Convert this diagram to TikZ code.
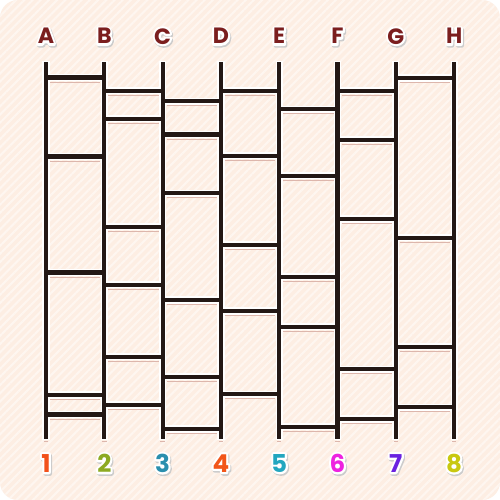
\documentclass[tikz,border=0pt]{standalone}
\usepackage{fontspec}
\setmainfont{Poppins}
\usetikzlibrary{patterns.meta}

\definecolor{bgpeach}{HTML}{FDEEE3}
\definecolor{stripe}{HTML}{FEF6F0}
\definecolor{railc}{HTML}{231815}
\definecolor{rungshade}{HTML}{DDB6AC}
\definecolor{lblred}{HTML}{7B1E1E}
\definecolor{cone}{HTML}{F2511B}
\definecolor{ctwo}{HTML}{8DAA22}
\definecolor{cthree}{HTML}{2A8FAE}
\definecolor{cfour}{HTML}{F2561A}
\definecolor{cfive}{HTML}{22A6BF}
\definecolor{csix}{HTML}{EE22E0}
\definecolor{cseven}{HTML}{6A22E0}
\definecolor{ceight}{HTML}{C9C810}

% coloured label with white rim and soft drop shadow (stroked glyphs underneath)
\newcommand\rimtext[2]{%
  \makebox[0pt][l]{\hspace{0.6pt}\raisebox{-0.9pt}{\color{black!20}%
    \special{pdf:literal direct 1 j 2.4 w 2 Tr}#2\special{pdf:literal direct 0 Tr}}}%
  \makebox[0pt][l]{\color{white}%
    \special{pdf:literal direct 1 j 2.4 w 2 Tr}#2\special{pdf:literal direct 0 Tr}}%
  \textcolor{#1}{#2}}

\begin{document}
\begin{tikzpicture}[
  x=0.2mm, y=-0.2mm,
  halo/.style={white, line width=4.1pt},
  rail/.style={railc, line width=2.3pt},
  shadeline/.style={rungshade, line width=0.6pt},
  toplbl/.style={font=\bfseries\fontsize{12.6}{12.6}\selectfont, inner sep=0pt},
  numlbl/.style={font=\bfseries\fontsize{14}{14}\selectfont, inner sep=0pt}]

% background card
\useasboundingbox (0,0) rectangle (500,500);
\fill[white] (0,0) rectangle (500,500);
\fill[bgpeach, rounded corners=3.6mm] (0,0) rectangle (500,500);
\fill[pattern={Lines[angle=45, distance=3.3pt, line width=1.2pt]}, pattern color=stripe,
      rounded corners=3.6mm] (0,0) rectangle (500,500);

% rails: name / x / number / colour
\foreach \n/\x/\k/\c in {A/46/1/cone, B/104.3/2/ctwo, C/162.6/3/cthree, D/220.9/4/cfour,
                         E/279.2/5/cfive, F/337.5/6/csix, G/395.8/7/cseven, H/454.1/8/ceight}{
  \coordinate (t\n) at (\x,62);
  \coordinate (b\n) at (\x,439);
  \node[toplbl] (l\n) at (\x,37) {\rimtext{lblred}{\n}};
  \node[numlbl] (n\k) at (\x,464) {\rimtext{\c}{\k}};
}

\def\rungs{A/B/{77.5,156.5,272.5,395,414.5},
           B/C/{90.7,118.7,226.7,284.7,356.7,405},
           C/D/{101.3,134.5,193.3,300,376.7,429},
           D/E/{90.7,155.7,245,311,394.3},
           E/F/{109.3,175.7,276.7,326.7,426.7},
           F/G/{90.7,139.7,219,369.3,419},
           G/H/{78,237.7,346.7,407.3}}

% white rims first
\foreach \n in {A,...,H}
  \draw[halo] ([yshift=0.4pt]t\n) -- ([yshift=-0.4pt]b\n);
\foreach \l/\r/\ys in \rungs
  \foreach \y in \ys
    \draw[halo] (t\l |- 0,\y) -- (t\r |- 0,\y);

% soft shade under each rung and rail foot
\foreach \l/\r/\ys in \rungs
  \foreach \y in \ys
    \draw[shadeline] ([xshift=0.8mm]t\l |- 0,\y+4.6) -- ([xshift=-0.8mm]t\r |- 0,\y+4.6);
\foreach \n in {A,...,H}
  \draw[shadeline, line width=2.6pt] ([yshift=-1.3pt]b\n) -- ([yshift=-1.9pt]b\n);

% dark ladder
\foreach \n in {A,...,H}
  \draw[rail] (t\n) -- (b\n);
\foreach \l/\r/\ys in \rungs
  \foreach \y in \ys
    \draw[rail] (t\l |- 0,\y) -- (t\r |- 0,\y);
\end{tikzpicture}
\end{document}
